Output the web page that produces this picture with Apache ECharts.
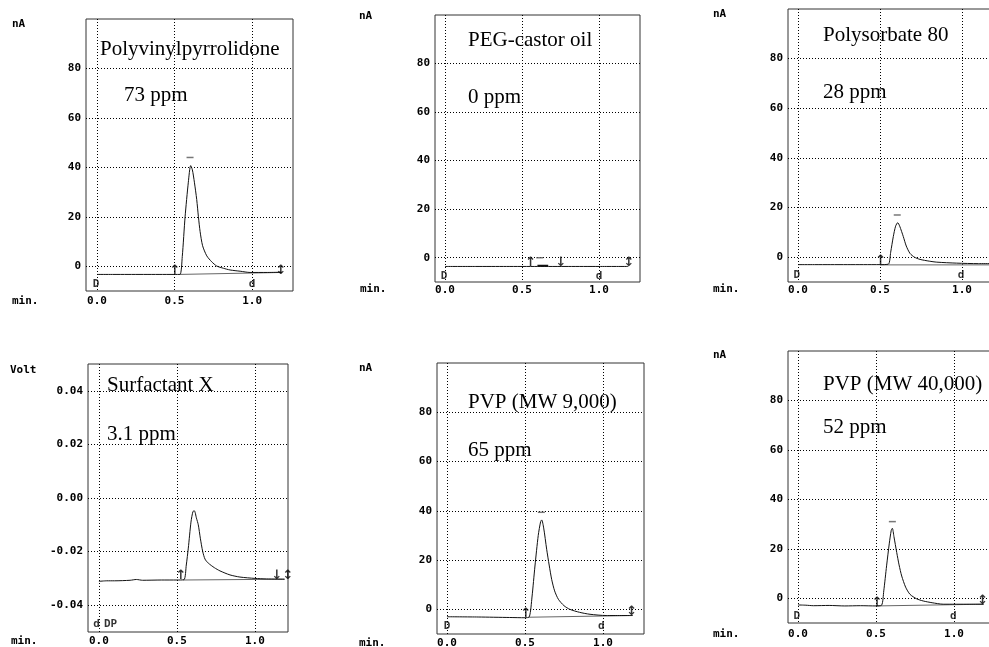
<!DOCTYPE html>
<html><head><meta charset="utf-8">
<script src="https://cdn.jsdelivr.net/npm/echarts@6/dist/echarts.min.js"></script>
<style>html,body{margin:0;padding:0;background:#fff}#c{width:989px;height:647px}</style>
</head><body><div id="c"></div>
<script>
// ---------- data ----------
const titles  = ['Polyvinylpyrrolidone', 'PEG-castor oil', 'Polysorbate 80', 'Surfactant X', 'PVP (MW 9,000)', 'PVP (MW 40,000)'];
const amounts = ['73 ppm', '0 ppm', '28 ppm', '3.1 ppm', '65 ppm', '52 ppm'];
const yUnits  = ['nA', 'nA', 'nA', 'Volt', 'nA', 'nA'];
const xUnit   = 'min.';
const xTicks  = [0, 0.5, 1.0];
const yTicksNA   = [0, 20, 40, 60, 80];
const yTicksVolt = [-0.04, -0.02, 0, 0.02, 0.04];

// chromatogram traces [time (min), signal]
const tracePVP = [[0,-3.3],[0.1,-3.3],[0.2,-3.3],[0.3,-3.3],[0.4,-3.3],[0.5,-3.3],[0.535,-3.3],[0.55,4],[0.568,20],[0.589,34],[0.604,40.7],[0.615,39],[0.628,34],[0.643,27],[0.654,20],[0.665,14],[0.681,8.3],[0.708,4.2],[0.74,1.8],[0.772,0.1],[0.815,-0.8],[0.858,-1.5],[0.923,-2.0],[0.987,-2.5],[1.1,-2.5],[1.19,-2.4]];
const tracePEG = [[0,-3.6],[0.2,-3.6],[0.4,-3.6],[0.6,-3.6],[0.8,-3.6],[1.0,-3.6],[1.19,-3.6]];
const tracePS80 = [[0,-3.0],[0.1,-3.0],[0.2,-3.0],[0.3,-3.0],[0.4,-3.0],[0.5,-3.0],[0.551,-2.8],[0.565,2],[0.581,8.3],[0.595,12.5],[0.608,13.9],[0.62,12.5],[0.642,8.3],[0.66,4.5],[0.683,1.5],[0.71,0],[0.744,-0.9],[0.8,-1.6],[0.846,-2.0],[0.967,-2.4],[1.1,-2.6],[1.26,-2.6]];
const traceSurfX = [[0,-0.0311],[0.05,-0.0309],[0.1,-0.0309],[0.2,-0.0307],[0.24,-0.0304],[0.28,-0.0307],[0.4,-0.0306],[0.5,-0.0306],[0.545,-0.0305],[0.56,-0.025],[0.573,-0.0187],[0.59,-0.009],[0.603,-0.005],[0.612,-0.0048],[0.625,-0.0075],[0.637,-0.0100],[0.65,-0.015],[0.665,-0.0199],[0.68,-0.0228],[0.701,-0.0243],[0.74,-0.026],[0.776,-0.0272],[0.84,-0.0287],[0.904,-0.0295],[1.0,-0.0300],[1.075,-0.0302],[1.19,-0.0303]];
const tracePVP9k = [[0,-3.0],[0.2,-3.1],[0.4,-3.3],[0.5,-3.4],[0.528,-3.0],[0.545,5],[0.564,17.6],[0.585,30],[0.6,35.5],[0.607,36.3],[0.62,33],[0.639,24.4],[0.655,18],[0.671,12.2],[0.69,7.5],[0.714,4.1],[0.75,1.5],[0.788,0],[0.85,-1.2],[0.917,-2.0],[1.02,-2.5],[1.19,-2.5]];
const tracePVP40k = [[0,-2.7],[0.05,-2.8],[0.1,-3.0],[0.2,-2.9],[0.3,-3.1],[0.4,-3.0],[0.5,-3.1],[0.536,-2.8],[0.55,3],[0.568,13.1],[0.585,22],[0.598,27.5],[0.605,28.3],[0.615,25],[0.633,18.5],[0.648,13.5],[0.665,9.0],[0.69,4.5],[0.718,1.6],[0.76,-0.2],[0.803,-1.1],[0.86,-1.8],[0.931,-2.4],[1.1,-2.4],[1.19,-2.4]];

// integration baselines [start, end]
const basePVP    = [[0.53,-3.3],[1.19,-2.5]];
const basePEG    = [[0.60,-3.3],[0.67,-3.3]];
const basePS80   = [[0.50,-3.1],[1.26,-3.1]];
const baseSurfX  = [[0.54,-0.0306],[1.19,-0.0303]];
const basePVP9k  = [[0.52,-3.2],[1.19,-2.5]];
const basePVP40k = [[0.50,-3.1],[1.19,-2.4]];

// event marks [time, signal, text]
const marksPVP    = [[-0.006,-7.3,'D'],[1.0,-7.3,'d'],[0.503,-1.6,'↑'],[1.187,-1.9,'↕']];
const marksPEG    = [[-0.006,-7.4,'D'],[1.0,-7.4,'d'],[0.556,-1.9,'↑'],[0.753,-1.9,'↓'],[1.195,-1.9,'↕']];
const marksPS80   = [[-0.008,-7.3,'D'],[0.994,-7.3,'d'],[0.504,-1.5,'↑']];
const marksSurfX  = [[-0.015,-0.0471,'d'],[0.075,-0.0471,'DP'],[0.526,-0.0289,'↑'],[1.176,-0.0289,'↓↕']];
const marksPVP9k  = [[0.0,-7.0,'D'],[0.99,-7.0,'d'],[0.506,-1.6,'↑'],[1.184,-0.9,'↕']];
const marksPVP40k = [[-0.008,-7.4,'D'],[0.996,-7.4,'d'],[0.508,-1.7,'↑'],[1.184,-1.1,'↕']];

// peak-top marks [time, signal]
const topsPVP    = [[0.60,44]];
const topsPEG    = [[0.615,0]];
const topsPS80   = [[0.605,17]];
const topsSurfX  = [];
const topsPVP9k  = [[0.605,39.4]];
const topsPVP40k = [[0.605,31]];

// ---------- layout ----------
const traces = [tracePVP, tracePEG, tracePS80, traceSurfX, tracePVP9k, tracePVP40k];
const bases  = [basePVP, basePEG, basePS80, baseSurfX, basePVP9k, basePVP40k];
const marks  = [marksPVP, marksPEG, marksPS80, marksSurfX, marksPVP9k, marksPVP40k];
const tops   = [topsPVP, topsPEG, topsPS80, topsSurfX, topsPVP9k, topsPVP40k];

const grids = [
  {left:86,  top:19,  width:207, height:272},
  {left:435, top:15,  width:205, height:267},
  {left:788, top:9,   width:217, height:273},
  {left:88,  top:364, width:200, height:268},
  {left:437, top:363, width:207, height:271},
  {left:788, top:351, width:207, height:272}
];
const xRanges = [[-0.071,1.264],[-0.065,1.266],[-0.061,1.262],[-0.07,1.212],[-0.064,1.263],[-0.064,1.263]];
const xLabMargin = [5,3,3,4,4,6];
const titlePos = [[100,49.5,124,95.6],[468,41.2,468,98],[823,36.2,823,93],[107,386.2,107,434.6],[468,403,468,451],[823,384.6,823,428]];
const unitPos  = [[12,25],[359,16.7],[713,15],[10,370.3],[359,368.3],[713,355.8]];
const minPos   = [[12,301.7],[360,290],[713,290],[11,641.7],[359,643.3],[713,635]];

const mono = '"DejaVu Sans Mono", monospace';
const serif = '"Liberation Serif", "Times New Roman", serif';

const option = {
  animation: false,
  backgroundColor: '#fff',
  grid: grids.map(g => Object.assign({show:true, borderColor:'#333', borderWidth:1, backgroundColor:'#fff', containLabel:false, outerBoundsMode:'none'}, g)),
  xAxis: grids.map((g,i) => ({
    type:'value', gridIndex:i, min:xRanges[i][0], max:xRanges[i][1],
    axisLine:{show:false},
    axisTick:{show:false, customValues:xTicks},
    axisLabel:{customValues:xTicks, formatter:v=>v.toFixed(1), margin:xLabMargin[i], color:'#000', fontFamily:mono, fontWeight:'bold', fontSize:11},
    splitLine:{show:true, lineStyle:{color:'#000', width:1, type:[1,2]}}
  })),
  yAxis: grids.map((g,i) => {
    const volt = yUnits[i] === 'Volt';
    const t = volt ? yTicksVolt : yTicksNA;
    return {
      type:'value', gridIndex:i, min: volt ? -0.05 : -10, max: volt ? 0.05 : 100,
      axisLine:{show:false},
      axisTick:{show:false, customValues:t},
      axisLabel:{customValues:t, formatter: v => volt ? v.toFixed(2) : String(v), margin:5, color:'#000', fontFamily:mono, fontWeight:'bold', fontSize:11},
      splitLine:{show:true, lineStyle:{color:'#000', width:1, type:[1,2]}}
    };
  }),
  series: [],
  graphic: []
};

const isArrow = s => /[↑↓↕]/.test(s);

for (let i = 0; i < 6; i++) {
  option.series.push({
    type:'line', xAxisIndex:i, yAxisIndex:i, data:bases[i], showSymbol:false,
    lineStyle:{color: i===1 ? '#111' : '#666', width: i===1 ? 2 : 1}, z:3
  });
  option.series.push({
    type:'line', xAxisIndex:i, yAxisIndex:i, data:traces[i], showSymbol:false, smooth:0.25,
    lineStyle:{color:'#111', width:1}, z:4
  });
  option.series.push({
    type:'scatter', xAxisIndex:i, yAxisIndex:i, data:marks[i], symbolSize:1,
    itemStyle:{color:'rgba(0,0,0,0)'}, z:5,
    label:{show:true, position:'inside',
      formatter:p => isArrow(p.value[2]) ? '{a|' + p.value[2] + '}' : '{t|' + p.value[2] + '}',
      rich:{
        a:{fontFamily:'"DejaVu Sans", sans-serif', fontWeight:'bold', fontSize:13, color:'#000'},
        t:{fontFamily:mono, fontWeight:'bold', fontSize:11, color:'#000'}
      }}
  });
  option.series.push({
    type:'scatter', xAxisIndex:i, yAxisIndex:i, data:tops[i], symbol:'rect', symbolSize:[7,1.5],
    itemStyle:{color:'#555'}, z:5
  });
  const tp = titlePos[i];
  option.graphic.push({type:'text', left:tp[0], top:tp[1]-11, z:100, style:{text:titles[i], font:'21px ' + serif, fill:'#000'}});
  option.graphic.push({type:'text', left:tp[2], top:tp[3]-11, z:100, style:{text:amounts[i], font:'21px ' + serif, fill:'#000'}});
  const up = unitPos[i];
  option.graphic.push({type:'text', left:up[0], top:up[1]-6, z:100, style:{text:yUnits[i], font:'bold 11px ' + mono, fill:'#000'}});
  const mp = minPos[i];
  option.graphic.push({type:'text', left:mp[0], top:mp[1]-6, z:100, style:{text:xUnit, font:'bold 11px ' + mono, fill:'#000'}});
}

const chart = echarts.init(document.getElementById('c'), null, {renderer:'canvas'});
chart.setOption(option);
</script>
</body></html>
